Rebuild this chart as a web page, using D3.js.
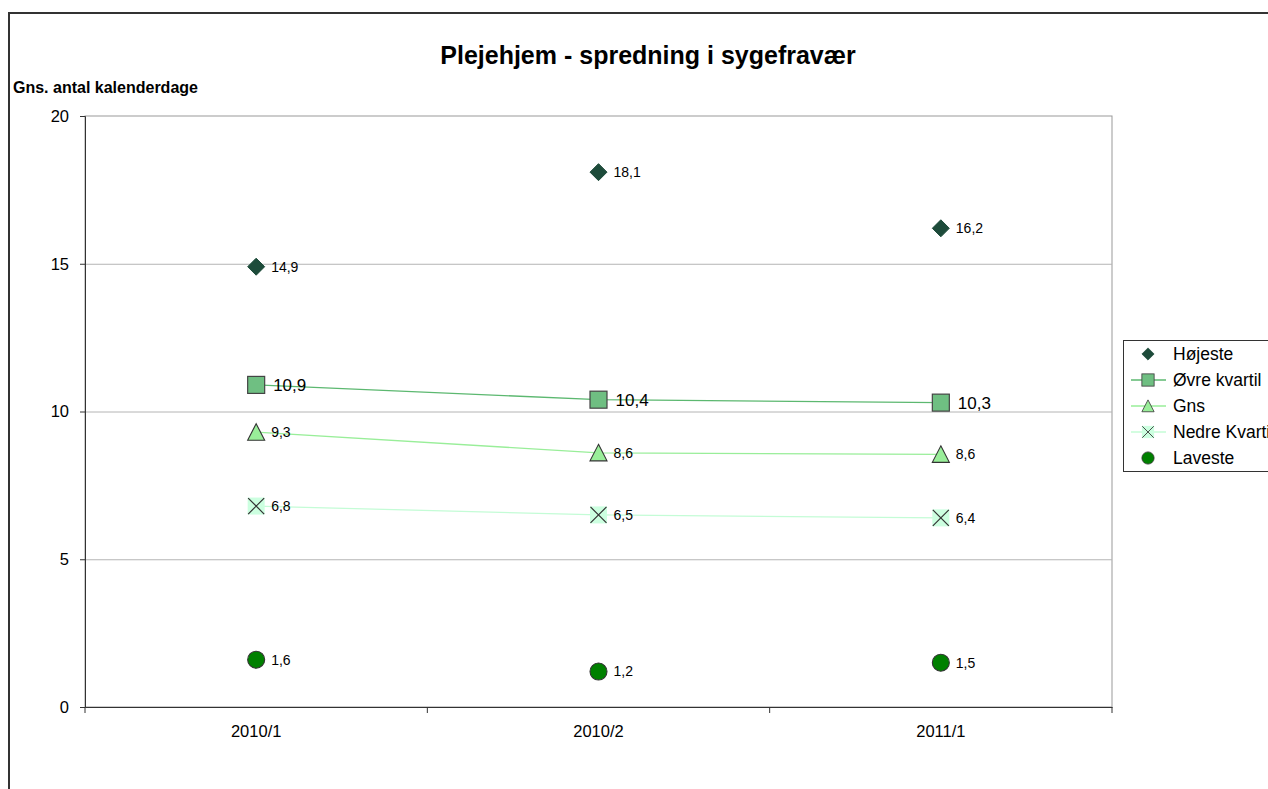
<!DOCTYPE html>
<meta charset="utf-8">
<html>
  <head>
    <title>Plejehjem - spredning i sygefravær</title>
    <script src="https://d3js.org/d3.v7.min.js"></script>
    <style>
      body { margin: 0; background: #fff; }
      text { font-family: "Liberation Sans", Arial, sans-serif; }
    </style>
  </head>
  <body>
    <div id="chart"></div>
    <script type="text/javascript">

        // data
        var periods = ["2010/1", "2010/2", "2011/1"];
        var hojeste = [14.9, 18.1, 16.2];
        var ovre_kvartil = [10.9, 10.4, 10.3];
        var gns = [9.3, 8.6, 8.55];
        var nedre_kvartil = [6.8, 6.5, 6.4];
        var laveste = [1.6, 1.2, 1.5];
        var y_ticks = [0, 5, 10, 15, 20];

        var series = [
            {name: "Højeste", values: hojeste, line: null, symbol: "diamond", fill: "#1d4b3a", stroke: "#1d4b3a"},
            {name: "Øvre kvartil", values: ovre_kvartil, line: "#5cb870", symbol: "square", fill: "#6fbf82", stroke: "#444"},
            {name: "Gns", values: gns, line: "#99ee99", symbol: "triangle", fill: "#99ee99", stroke: "#333"},
            {name: "Nedre Kvartil", values: nedre_kvartil, line: "#c4fcd6", symbol: "x", fill: "#ccffe0", stroke: "#333"},
            {name: "Laveste", values: laveste, line: null, symbol: "circle", fill: "#008000", stroke: "#333"}
        ];

        var total_width = 1268, total_height = 789;
        var plot = {left: 85, right: 1112, top: 116, bottom: 707};
        var font = "Liberation Sans, Arial, sans-serif";

        var svg = d3.select("#chart").append("svg")
            .attr("width", total_width)
            .attr("height", total_height);

        // outer chart border
        svg.append("rect")
            .attr("x", 9).attr("y", 13)
            .attr("width", 1300).attr("height", 900)
            .attr("fill", "none")
            .attr("stroke", "#333")
            .attr("stroke-width", 2);

        var x_scale = d3.scaleBand()
            .domain(periods)
            .range([plot.left, plot.right]);
        var y_scale = d3.scaleLinear()
            .domain([0, 20])
            .range([plot.bottom, plot.top]);

        // plot area frame + grid
        svg.append("rect")
            .attr("x", plot.left).attr("y", plot.top)
            .attr("width", plot.right - plot.left).attr("height", plot.bottom - plot.top)
            .attr("fill", "none").attr("stroke", "#999").attr("stroke-width", 1);

        svg.append("g").selectAll("line")
            .data(y_ticks.filter(function(d){ return d > 0 && d < 20; }))
            .enter().append("line")
            .attr("x1", plot.left).attr("x2", plot.right)
            .attr("y1", function(d){ return y_scale(d) + 0.5; })
            .attr("y2", function(d){ return y_scale(d) + 0.5; })
            .attr("stroke", "#b4b4b4");

        // axes
        var y_axis = d3.axisLeft(y_scale).tickValues(y_ticks).tickSize(5).tickPadding(11);
        var gy = svg.append("g").attr("transform", "translate(" + plot.left + ",0)").call(y_axis);
        gy.selectAll("path, line").attr("stroke", "#333");
        gy.selectAll("text").style("font-size", "16.5px").attr("fill", "#000")
            .style("font-family", font);

        var x_axis = d3.axisBottom(x_scale).tickSize(0).tickPadding(18);
        var gx = svg.append("g").attr("transform", "translate(0," + plot.bottom + ")").call(x_axis);
        gx.select("path").attr("stroke", "#333");
        gx.selectAll("text").style("font-size", "16.5px").attr("fill", "#000")
            .style("font-family", font);
        // category separator ticks
        var sep = periods.map(function(p){ return x_scale(p); }).concat([plot.right]);
        gx.selectAll(".sep").data(sep).enter().append("line")
            .attr("x1", function(d){ return d; }).attr("x2", function(d){ return d; })
            .attr("y1", 0).attr("y2", 6).attr("stroke", "#333");

        // titles
        svg.append("text")
            .attr("x", 648).attr("y", 64)
            .attr("text-anchor", "middle")
            .style("font-size", "25px").style("font-weight", "bold")
            .text("Plejehjem - spredning i sygefravær");
        svg.append("text")
            .attr("x", 13).attr("y", 93)
            .style("font-size", "16px").style("font-weight", "bold")
            .text("Gns. antal kalenderdage");

        function cx(i){ return x_scale(periods[i]) + x_scale.bandwidth() / 2; }

        function drawSymbol(g, s, x, y){
            if (s.symbol == "diamond"){
                g.append("path").attr("d", "M" + x + "," + (y - 8.5) + "L" + (x + 8.5) + "," + y + "L" + x + "," + (y + 8.5) + "L" + (x - 8.5) + "," + y + "Z")
                    .attr("fill", s.fill).attr("stroke", s.stroke);
            } else if (s.symbol == "square"){
                g.append("rect").attr("x", x - 8.5).attr("y", y - 8.5).attr("width", 17).attr("height", 17)
                    .attr("fill", s.fill).attr("stroke", s.stroke).attr("stroke-width", 1.2);
            } else if (s.symbol == "triangle"){
                g.append("path").attr("d", "M" + x + "," + (y - 8.5) + "L" + (x + 8.5) + "," + (y + 8) + "L" + (x - 8.5) + "," + (y + 8) + "Z")
                    .attr("fill", s.fill).attr("stroke", s.stroke).attr("stroke-width", 1.1);
            } else if (s.symbol == "x"){
                g.append("rect").attr("x", x - 8.5).attr("y", y - 8.5).attr("width", 17).attr("height", 17)
                    .attr("fill", s.fill);
                g.append("path").attr("d", "M" + (x - 8) + "," + (y - 8) + "L" + (x + 8) + "," + (y + 8) + "M" + (x + 8) + "," + (y - 8) + "L" + (x - 8) + "," + (y + 8))
                    .attr("stroke", s.stroke).attr("stroke-width", 1.2);
            } else {
                g.append("circle").attr("cx", x).attr("cy", y).attr("r", 8.5)
                    .attr("fill", s.fill).attr("stroke", s.stroke).attr("stroke-width", 1.1);
            }
        }

        var line = d3.line()
            .x(function(d, i){ return cx(i); })
            .y(function(d){ return y_scale(d); });

        series.forEach(function(s){
            var g = svg.append("g");
            if (s.line){
                g.append("path").attr("d", line(s.values))
                    .attr("fill", "none").attr("stroke", s.line).attr("stroke-width", 1.3);
            }
            s.values.forEach(function(v, i){
                drawSymbol(g, s, cx(i), y_scale(v));
                g.append("text")
                    .attr("x", cx(i) + (s.symbol == "square" ? 17 : 15))
                    .attr("y", y_scale(v))
                    .attr("dy", "0.35em")
                    .style("font-size", s.symbol == "square" ? "17px" : "14px")
                    .text(v.toFixed(1).replace(".", ","));
            });
        });

        // legend
        var legend = svg.append("g");
        legend.append("rect")
            .attr("x", 1123.5).attr("y", 340.5)
            .attr("width", 200).attr("height", 131)
            .attr("fill", "#fff").attr("stroke", "#333");
        series.forEach(function(s, i){
            var y = 354 + i * 26;
            if (s.line){
                legend.append("line").attr("x1", 1131).attr("x2", 1166)
                    .attr("y1", y).attr("y2", y).attr("stroke", s.line).attr("stroke-width", 1.3);
            }
            var sg = legend.append("g").attr("transform", "translate(1148," + y + ") scale(0.72) translate(-1148," + (-y) + ")");
            drawSymbol(sg, s, 1148, y);
            legend.append("text")
                .attr("x", 1173).attr("y", y).attr("dy", "0.35em")
                .style("font-size", "17.5px")
                .text(s.name);
        });

    </script>
  </body>
</html>
